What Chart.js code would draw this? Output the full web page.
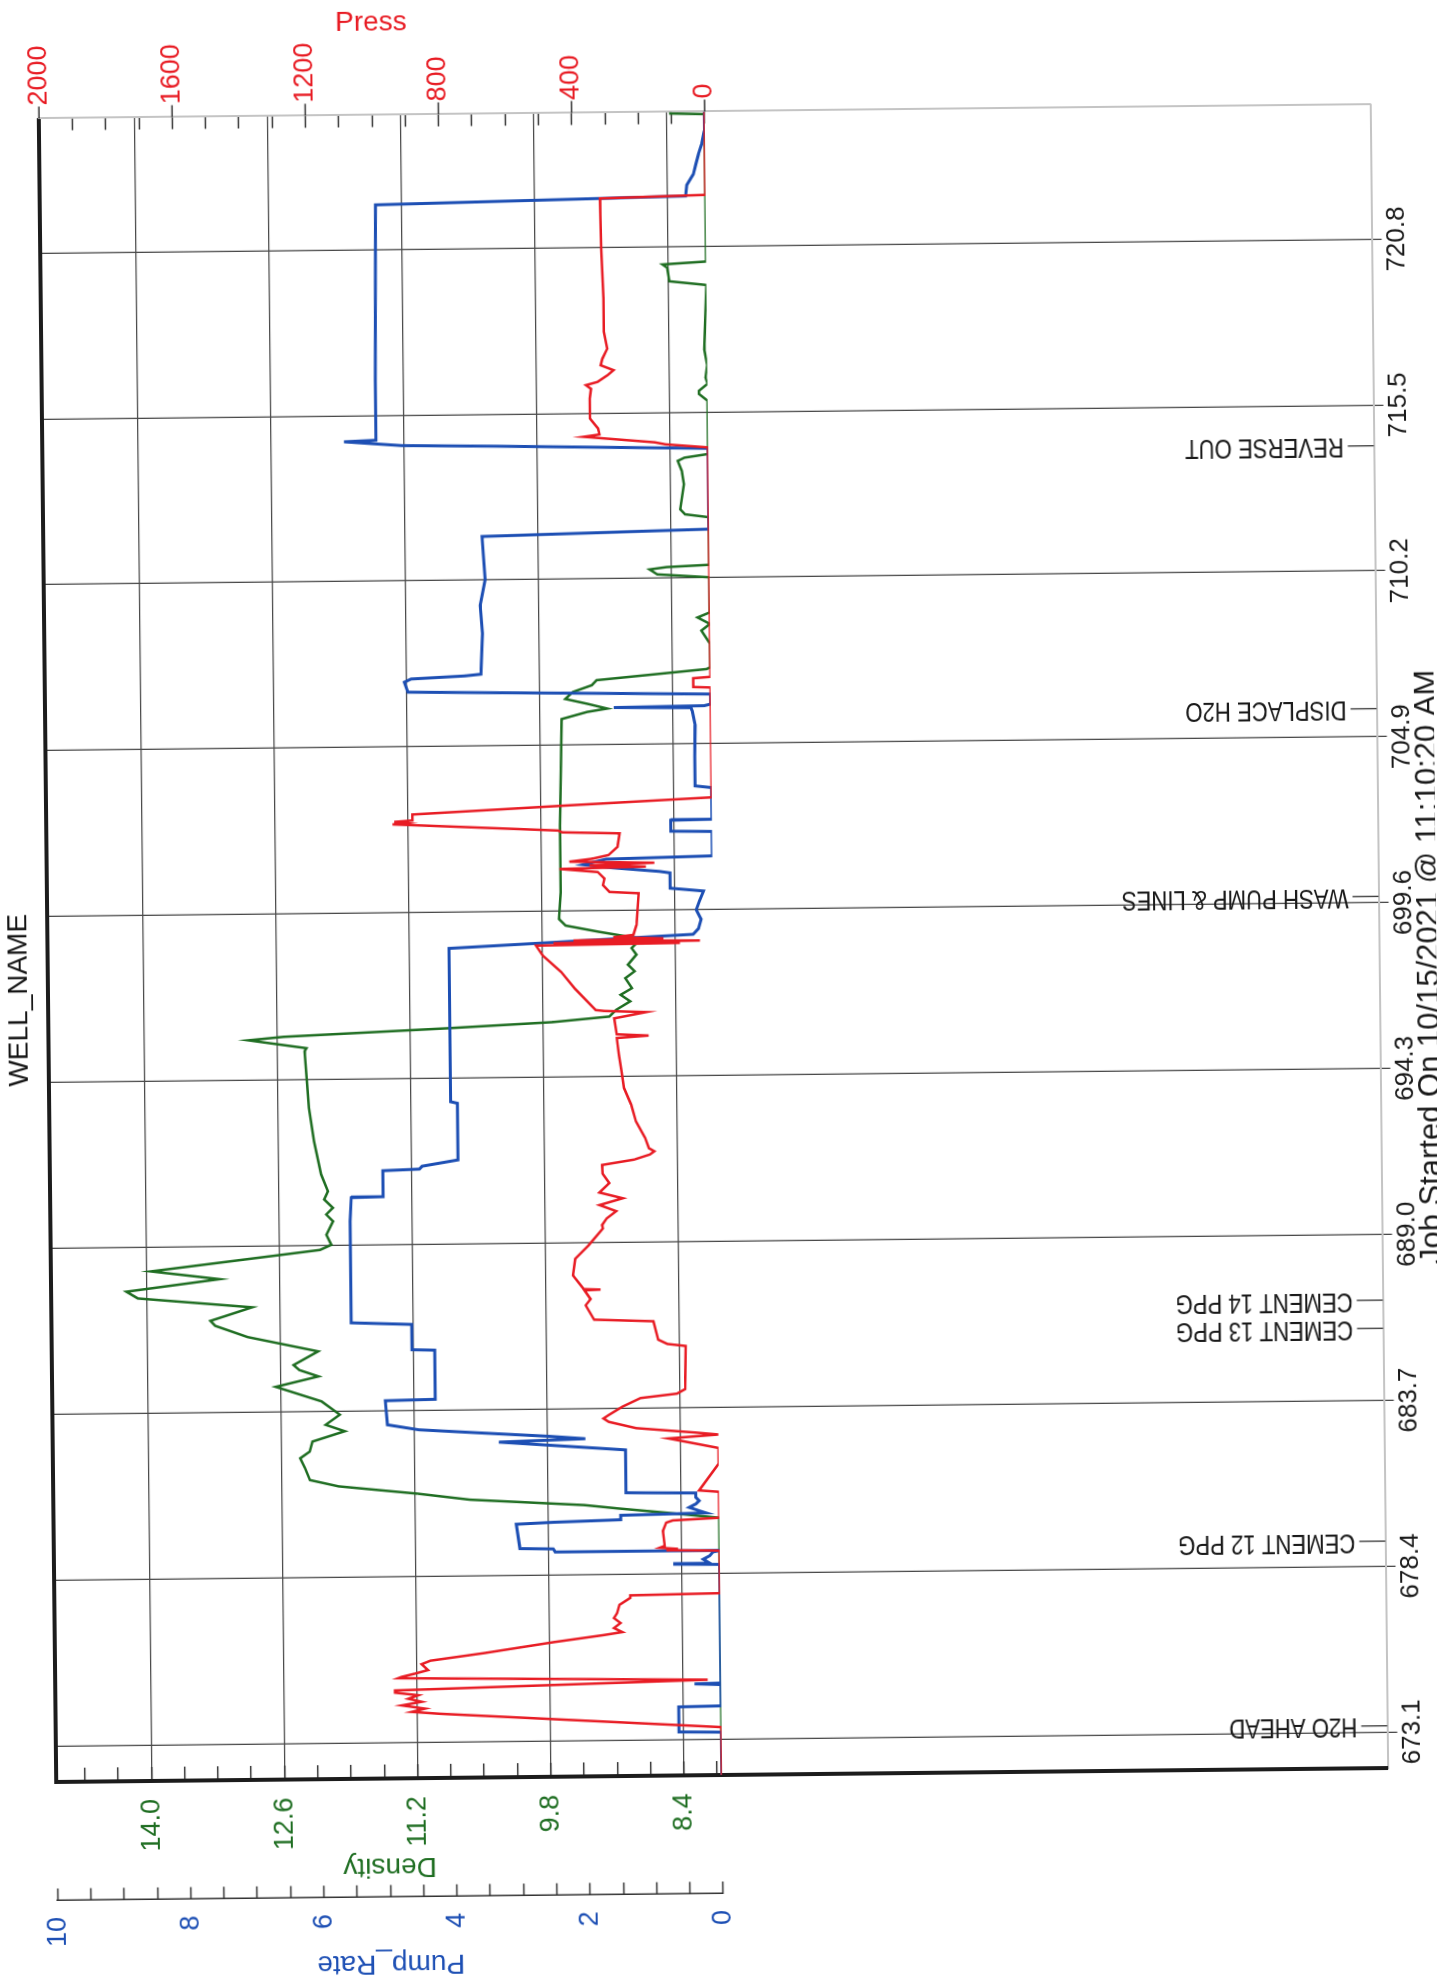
<!DOCTYPE html>
<html><head><meta charset="utf-8">
<script src="https://cdn.jsdelivr.net/npm/chart.js@4.4.1/dist/chart.umd.min.js"></script>
<style>
html,body{margin:0;padding:0;background:#fff;overflow:hidden;width:1437px;height:1986px;}
#page{position:absolute;left:0;top:0;width:1437px;height:1986px;transform-origin:50% 50%;transform:rotate(-0.6deg);}
#wrap{position:absolute;left:0;top:0;width:1986px;height:1437px;transform-origin:0 0;transform:translateY(1986px) rotate(-90deg);}
canvas{display:block;}
</style></head><body>
<div id="page"><div id="wrap"><canvas id="c" width="1986" height="1437"></canvas></div></div>
<script>
// ---------- data (time in minutes) ----------
const timeTicks = [673.1, 678.4, 683.7, 689.0, 694.3, 699.6, 704.9, 710.2, 715.5, 720.8];
const densTicks = [8.05, 8.4, 8.75, 9.1, 9.45, 9.8, 10.15, 10.5, 10.85, 11.2, 11.55, 11.9, 12.25, 12.6, 12.95, 13.3, 13.65, 14.0, 14.35, 14.7];
const densMajor = [8.4, 9.8, 11.2, 12.6, 14.0];
const pressMajor = [0, 400, 800, 1200, 1600, 2000];

const eventTimes = [673.3, 679.2, 686.0, 686.9, 699.8, 705.8, 714.2];
const eventNames = ['H2O AHEAD', 'CEMENT 12 PPG', 'CEMENT 13 PPG', 'CEMENT 14 PPG', 'WASH PUMP & LINES', 'DISPLACE H2O', 'REVERSE OUT'];

const pumpTime = [671.95, 673.32, 673.34, 674.14, 674.16, 674.84, 674.87, 674.89, 678.68, 678.70, 678.72, 678.85, 678.96, 679.08, 679.12,
  679.13, 679.23, 679.25, 680.03, 680.08, 680.14, 680.28, 680.33, 680.40, 680.51, 680.62, 680.72, 680.83, 680.97, 681.00,
  682.37, 682.66, 682.74, 682.83, 682.95, 683.08, 683.25, 684.02, 684.05, 685.62, 685.64, 686.45, 686.52, 689.77, 690.52,
  690.54, 691.37, 691.41, 691.50, 691.69, 693.50, 693.55, 698.45, 698.82, 699.0, 699.3, 699.6, 699.9, 700.20, 700.30,
  700.79, 700.84, 700.97, 701.08, 701.25, 701.32, 702.10, 702.12, 702.47, 702.49, 703.50, 703.56, 704.5, 705.5, 705.95,
  706.06, 706.09, 706.12, 706.17, 706.49, 706.65, 706.97, 707.07, 707.15, 707.20, 708.5, 709.4, 710.22, 711.60, 711.76,
  714.34, 714.48, 714.53, 714.67, 714.71, 716.61, 722.23, 722.41, 722.76, 723.10, 723.42, 723.74, 724.06, 724.49, 725.1];
const pumpRate = [0, 0, 0.64, 0.64, 0, 0, 0.4, 0, 0, 0.7, 0.15, 0.25, 0.15, 0.1, 0,
  2.47, 2.5, 3.0, 3.05, 2.5, 1.48, 1.48, 0.2, 0.3, 0.45, 0.35, 0.3, 0.35, 0.35, 1.4,
  1.4, 3.3, 2.0, 2.55, 3.5, 4.5, 4.97, 5.0, 4.25, 4.25, 4.59, 4.59, 5.5, 5.5, 5.48,
  5.0, 5.0, 4.45, 4.41, 3.87, 3.87, 3.97, 3.97, 0.3, 0.22, 0.18, 0.25, 0.2, 0.14, 0.64,
  0.64, 0.8, 1.5, 1.94, 1.6, 0, 0, 0.62, 0.62, 0, 0, 0.25, 0.25, 0.24, 0.28,
  0.3, 1.46, 0.1, 0, 0, 4.55, 4.6, 4.5, 3.69, 3.45, 3.42, 3.45, 3.37, 3.41, 0,
  0, 3.2, 4.6, 5.47, 4.99, 4.99, 4.96, 0.3, 0.28, 0.18, 0.14, 0.1, 0.05, 0.01, 0];

const densTime = [671.95, 680.17, 680.35, 680.50, 680.62, 680.83, 681.04, 681.30, 681.51, 681.89, 682.21, 682.42, 682.74, 683.06, 683.27,
  683.59, 684.02, 684.50, 684.82, 685.03, 685.19, 685.62, 686.10, 686.47, 686.63, 687.05, 687.37, 687.59, 687.96, 688.23,
  688.86, 689.02, 689.34, 689.77, 689.99, 690.20, 690.47, 690.73, 691.27, 692.33, 693.40, 694.25, 695.21, 695.31, 695.58,
  695.68, 695.90, 696.06, 696.22, 696.43, 696.70, 696.91, 697.12, 697.44, 697.66, 697.87, 698.19, 698.40, 698.61, 698.72,
  698.93, 699.14, 699.35, 700.20, 702.33, 704.47, 705.74, 705.96, 706.06, 706.22, 706.38, 706.60, 706.81, 706.97, 707.29,
  707.35, 708.09, 708.52, 708.73, 708.94, 709.10, 710.22, 710.33, 710.49, 710.56, 710.62, 712.14, 712.24, 712.40, 713.20,
  713.63, 713.95, 714.05, 714.16, 715.86, 716.08, 716.18, 716.40, 716.60, 717.00, 717.50, 719.56, 719.69, 720.12, 720.23,
  720.31, 725.02, 725.05, 725.1];
const density = [8.0, 8.0, 8.56, 9.06, 9.42, 10.62, 11.17, 12.0, 12.3, 12.35, 12.4, 12.3, 12.27, 11.93, 12.13,
  11.98, 12.17, 12.65, 12.2, 12.4, 12.46, 12.2, 12.94, 13.28, 13.33, 12.89, 14.09, 14.21, 13.23, 13.95,
  12.17, 12.05, 12.10, 12.03, 12.1, 12.03, 12.12, 12.08, 12.15, 12.22, 12.27, 12.29, 12.31, 12.29, 12.9,
  12.53, 10.8, 9.7, 9.1, 9.03, 8.88, 8.98, 8.86, 8.93, 8.83, 8.9, 8.81, 8.86, 8.79, 8.81,
  9.2, 9.55, 9.62, 9.6, 9.6, 9.58, 9.57, 9.3, 9.09, 9.3, 9.53, 9.45, 9.25, 9.2, 8.04,
  8.0, 8.0, 8.09, 8.0, 8.13, 8.0, 8.0, 8.55, 8.63, 8.45, 8.0, 8.0, 8.25, 8.3, 8.26,
  8.28, 8.32, 8.25, 8.0, 8.0, 8.09, 8.09, 8.0, 8.02, 8.0, 8.03, 8.0, 8.39, 8.41, 8.46,
  8.0, 8.0, 8.36, 8.36];

const pressTime = [671.95, 673.48, 674.00, 674.07, 674.17, 674.28, 674.39, 674.49, 674.60, 674.69, 674.76, 675.00, 675.15, 675.19, 675.29,
  675.40, 675.50, 675.59, 675.70, 675.93, 676.25, 676.46, 676.55, 676.68, 676.84, 677.00, 677.16, 677.42, 677.64, 677.72,
  677.76, 679.12, 679.15, 679.19, 679.23, 679.29, 679.77, 680.03, 680.10, 680.17, 681.00, 681.05, 681.90, 682.40, 682.72,
  682.83, 682.90, 683.06, 683.27, 683.38, 683.49, 683.75, 684.02, 684.15, 684.29, 685.67, 685.74, 685.88, 686.47, 686.54,
  687.00, 687.20, 687.48, 687.50, 687.52, 687.96, 688.49, 688.92, 689.45, 689.56, 689.77, 690.00, 690.20, 690.41, 690.60,
  690.90, 691.20, 691.48, 691.64, 691.80, 691.90, 692.00, 692.33, 692.86, 693.40, 693.93, 694.46, 695.00, 695.53, 695.60,
  695.65, 696.16, 696.35, 696.40, 696.43, 697.12, 697.66, 698.19, 698.51, 698.55, 698.58, 698.62, 698.66, 698.70, 698.75,
  698.82, 699.14, 700.15, 700.20, 700.42, 700.63, 700.84, 700.95, 701.00, 701.06, 701.12, 701.18, 701.27, 701.38, 701.64,
  702.07, 702.12, 702.18, 702.39, 702.43, 702.47, 702.51, 702.55, 702.74, 702.97, 703.19, 706.70, 706.72, 707.00, 707.04,
  714.37, 714.48, 714.55, 714.75, 714.82, 715.01, 715.33, 715.97, 716.28, 716.40, 716.50, 716.71, 716.87, 717.03, 717.24,
  717.56, 718.10, 719.16, 720.76, 722.36, 722.44, 725.1];
const press = [0, 0, 845, 930, 890, 960, 900, 940, 910, 980, 980, 40, 970, 960, 920,
  880, 890, 899, 872, 707, 502, 351, 295, 320, 300, 320, 310, 303, 270, 270,
  0, 0, 160, 125, 180, 165, 170, 160, 140, 0, 0, 60, 0, 0, 150,
  0, 69, 247, 329, 345, 329, 288, 233, 123, 99, 96, 151, 178, 192, 370,
  395, 380, 398, 350, 400, 432, 425, 384, 341, 343, 329, 300, 350, 280, 350,
  320, 340, 341, 245, 197, 184, 200, 211, 238, 252, 273, 280, 287, 293, 197,
  293, 300, 204, 330, 355, 417, 458, 513, 533, 100, 480, 40, 420, 150, 300,
  240, 230, 223, 310, 330, 325, 345, 460, 200, 370, 175, 430, 360, 312, 285,
  278, 450, 463, 880, 960, 920, 955, 900, 900, 450, 0, 0, 52, 52, 0,
  0, 127, 160, 374, 326, 330, 354, 354, 350, 365, 330, 300, 282, 320, 315,
  300, 310, 310, 315, 317, 0, 0];

const footerText = 'Job Started On 10/15/2021 @ 11:10:20 AM';

// ---------- styling ----------
const FONT = '"Liberation Sans", Arial, sans-serif';
const RED = '#e81c24', BLUE = '#1d4fb4', GREEN = '#1f6e22', GRID = '#4a4a4a', LIGHT = '#c4c4c4';
const pts = (ts, vs) => ts.map((t, i) => ({x: t, y: vs[i]}));
const pumpTicks = []; for (let v = 0; v <= 10.001; v += 0.5) pumpTicks.push(Math.round(v * 10) / 10);
const pressTicks = []; for (let v = 0; v <= 2000; v += 100) pressTicks.push(v);
const setTicks = arr => scale => { scale.ticks = arr.map(v => ({value: v})); };
const dummy = (pos, stack, border, width) => ({
  type: 'linear', position: pos, stack: stack, stackWeight: 1, min: 0, max: 1,
  ticks: {display: false}, grid: {drawOnChartArea: false, drawTicks: false},
  border: border, afterFit: s => { s.width = width; }
});

function narrowText(ctx, text, x, y, rot, sx, align, base) {
  ctx.save(); ctx.translate(x, y); ctx.rotate(rot); ctx.scale(sx, 1);
  ctx.textAlign = align; ctx.textBaseline = base; ctx.fillText(text, 0, 0); ctx.restore();
}

const extrasPlugin = {
  id: 'extras',
  afterDatasetsDraw(chart) {
    const {ctx, chartArea, scales} = chart;
    ctx.save();
    ctx.font = '27px ' + FONT;
    ctx.fillStyle = '#1a1a1a'; ctx.strokeStyle = '#333'; ctx.lineWidth = 1.3;
    eventTimes.forEach((t, i) => {
      const px = scales.x.getPixelForValue(t);
      ctx.beginPath(); ctx.moveTo(px, chartArea.bottom); ctx.lineTo(px, chartArea.bottom - 26); ctx.stroke();
      narrowText(ctx, eventNames[i], px, chartArea.bottom - 30, -Math.PI / 2, 0.82, 'left', 'middle');
    });
    // outward part of the major Press ticks
    ctx.strokeStyle = '#333'; ctx.lineWidth = 1.5;
    pressMajor.forEach(v => {
      const py = scales.yPress.getPixelForValue(v);
      ctx.beginPath(); ctx.moveTo(chartArea.right, py); ctx.lineTo(chartArea.right + 12, py); ctx.stroke();
    });
    ctx.restore();
  },
  afterDraw(chart) {
    const {ctx, chartArea} = chart;
    ctx.save();
    ctx.font = '31px ' + FONT; ctx.fillStyle = '#1a1a1a';
    narrowText(ctx, footerText, chartArea.left + (chartArea.right - chartArea.left) * 0.66, chart.height - 22, 0, 1, 'right', 'top');
    ctx.restore();
  }
};

new Chart(document.getElementById('c'), {
  type: 'scatter',
  data: {datasets: [
    {label: 'Press', data: pts(pressTime, press), xAxisID: 'x', yAxisID: 'yPress', showLine: true, borderColor: RED, borderWidth: 2.5, pointRadius: 0, tension: 0},
    {label: 'Pump_Rate', data: pts(pumpTime, pumpRate), xAxisID: 'x', yAxisID: 'yPump', showLine: true, borderColor: BLUE, borderWidth: 3, pointRadius: 0, tension: 0},
    {label: 'Density', data: pts(densTime, density), xAxisID: 'x', yAxisID: 'yDens', showLine: true, borderColor: GREEN, borderWidth: 2.5, pointRadius: 0, tension: 0}
  ]},
  options: {
    responsive: false, animation: false, devicePixelRatio: 1,
    layout: {padding: 0, autoPadding: false},
    plugins: {
      legend: {display: false}, tooltip: {enabled: false},
      title: {display: true, text: 'WELL_NAME', color: '#151515', font: {family: FONT, size: 28, weight: 'normal', lineHeight: 0.75}, padding: {top: 0, bottom: 18.5}}
    },
    scales: {
      x: {
        type: 'linear', position: 'bottom', min: 671.95, max: 725.1,
        afterBuildTicks: setTicks(timeTicks),
        ticks: {color: '#1a1a1a', font: {family: FONT, size: 26}, padding: 0, autoSkip: false, maxRotation: 0, callback: v => v.toFixed(1)},
        grid: {color: GRID, lineWidth: 1.3, tickLength: 10, tickColor: GRID},
        border: {color: LIGHT, width: 2},
        afterFit: s => { s.height = 57.5; }
      },
      xTop: {
        type: 'linear', position: 'top', min: 0, max: 1,
        ticks: {display: false}, grid: {drawOnChartArea: false, drawTicks: false},
        border: {color: '#1c1c1c', width: 4},
        afterFit: s => { s.height = 0; }
      },
      yDensLow: dummy('left', 'dens', {color: '#1c1c1c', width: 4}, 118.5),
      yDens: {
        type: 'linear', position: 'left', stack: 'dens', stackWeight: 1, min: 8.0, max: 15.0,
        afterBuildTicks: setTicks(densTicks),
        ticks: {color: GREEN, font: {family: FONT, size: 27}, padding: 32, autoSkip: false,
          callback: v => densMajor.some(m => Math.abs(m - v) < 1e-6) ? v.toFixed(1) : ''},
        grid: {color: c => densMajor.some(m => Math.abs(m - c.tick.value) < 1e-6) ? GRID : 'rgba(0,0,0,0)', lineWidth: 1.3, tickLength: -14, tickColor: '#333', tickWidth: 1.5},
        border: {color: '#1c1c1c', width: 4},
        title: {display: true, text: 'Density', color: GREEN, font: {family: FONT, size: 28, lineHeight: 1.2}, padding: {top: 14.2, bottom: 0}},
        afterFit: s => { s.width = 118.5; }
      },
      yPumpLow: dummy('left', 'pump', {display: false}, 92.5),
      yPump: {
        type: 'linear', position: 'left', stack: 'pump', stackWeight: 1, min: 0, max: 10,
        afterBuildTicks: setTicks(pumpTicks),
        ticks: {color: BLUE, font: {family: FONT, size: 27}, padding: 28.5, autoSkip: false,
          callback: v => (Math.abs(v % 2) < 1e-6 ? String(v) : '')},
        grid: {drawOnChartArea: false, tickLength: -12, tickColor: '#333', tickWidth: 1.5},
        border: {color: '#333', width: 1.5},
        title: {display: true, text: 'Pump_Rate', color: BLUE, font: {family: FONT, size: 28, lineHeight: 1.2}, padding: {top: 9.2, bottom: 0}},
        afterFit: s => { s.width = 92.5; }
      },
      yPress: {
        type: 'linear', position: 'right', stack: 'press', stackWeight: 1, min: 0, max: 2000,
        afterBuildTicks: setTicks(pressTicks),
        ticks: {color: RED, font: {family: FONT, size: 27}, padding: 25, autoSkip: false,
          callback: v => (v % 400 === 0 ? String(v) : '')},
        grid: {drawOnChartArea: false, tickLength: -12, tickColor: '#333', tickWidth: 1.5},
        border: {color: LIGHT, width: 2},
        title: {display: true, text: 'Press', color: RED, font: {family: FONT, size: 28, lineHeight: 1.2}, padding: {top: 2.4, bottom: 0}},
        afterFit: s => { s.width = 111.5; }
      },
      yPressLow: dummy('right', 'press', {color: LIGHT, width: 2}, 111.5)
    }
  },
  plugins: [extrasPlugin]
});
</script>
</body></html>
